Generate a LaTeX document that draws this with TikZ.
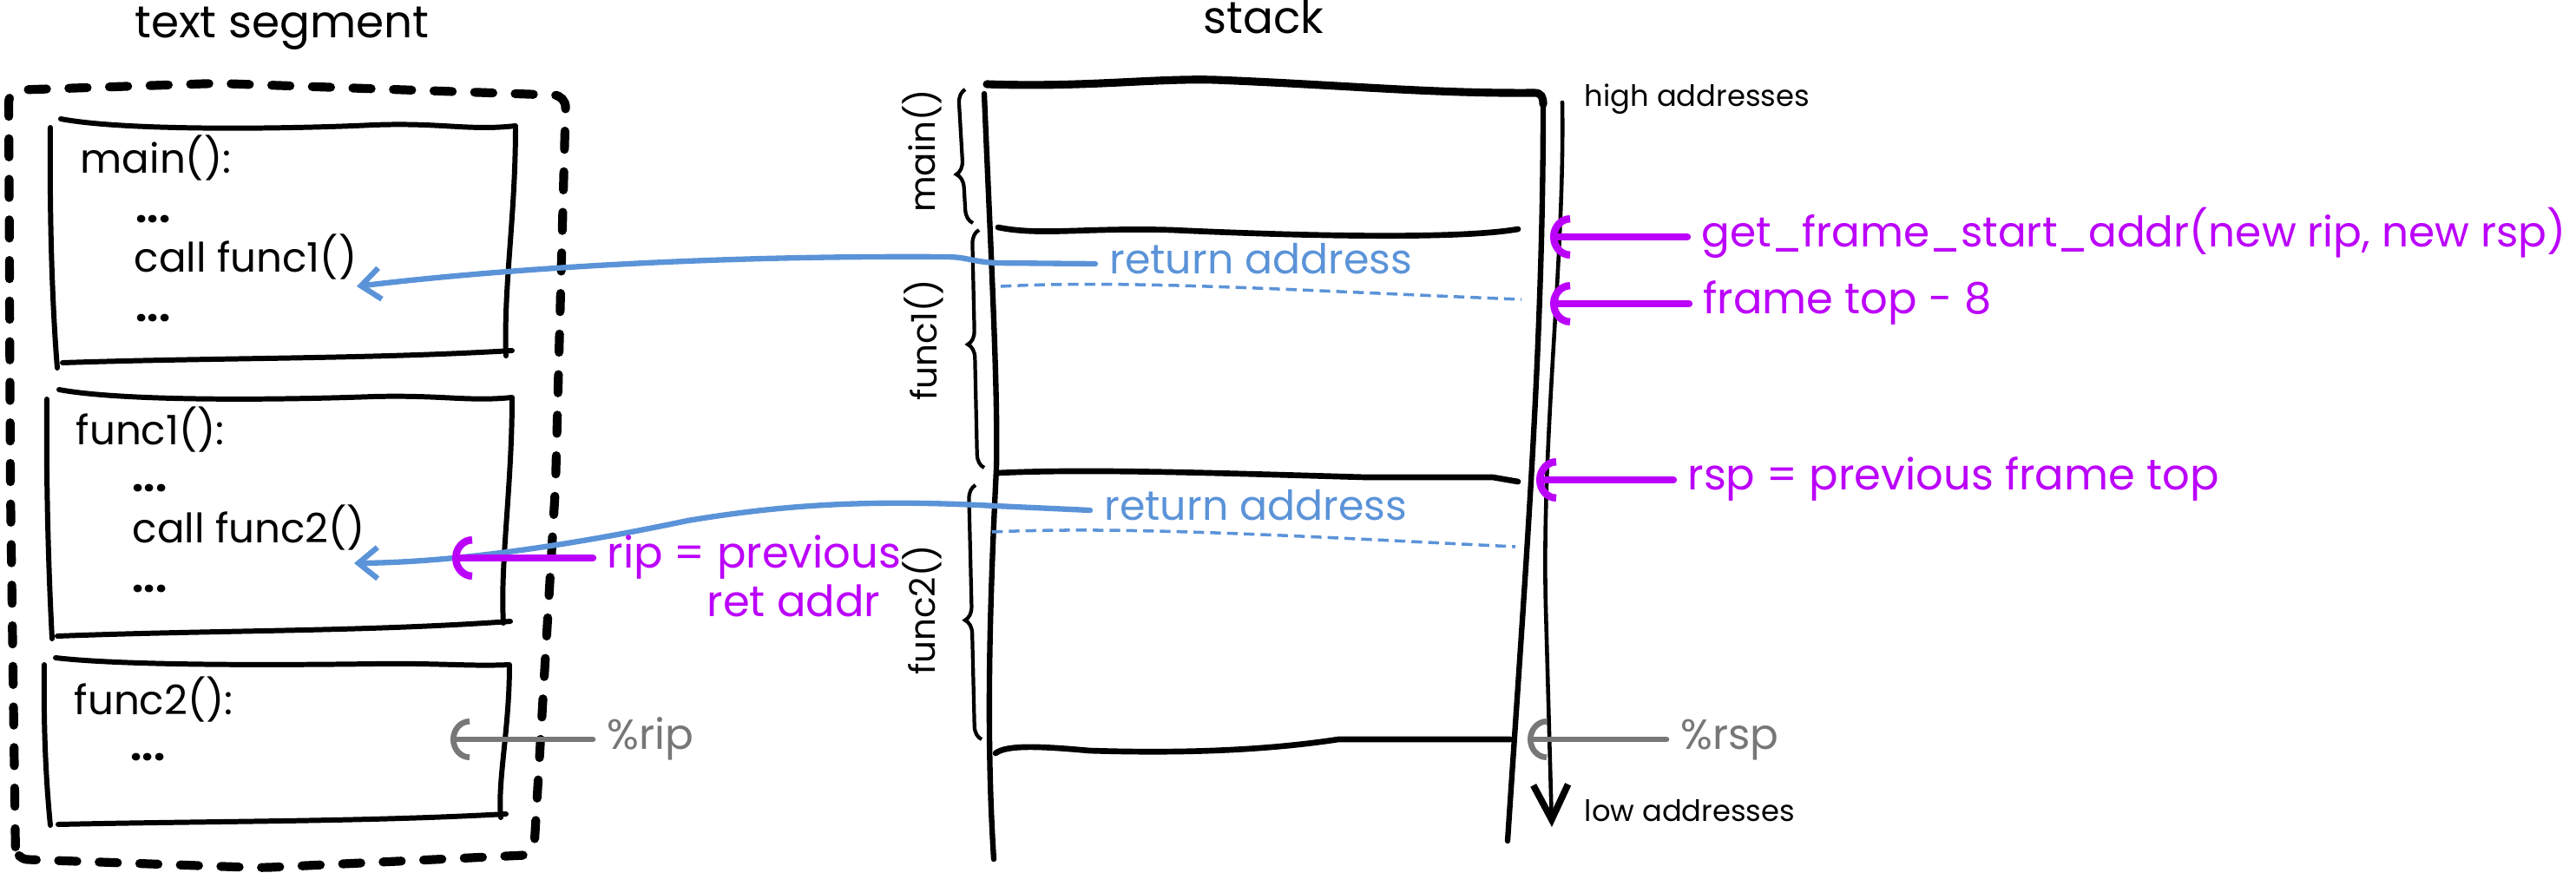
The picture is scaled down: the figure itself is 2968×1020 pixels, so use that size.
\documentclass[tikz,border=0pt]{standalone}
\usepackage{fontspec}
\setmainfont{Poppins}
\usepackage{tikz}
\usetikzlibrary{arrows.meta,decorations.pathreplacing,calc}

\definecolor{sketchblue}{HTML}{5B93D8}
\definecolor{sketchpurple}{HTML}{BB00FA}
\definecolor{sketchgray}{HTML}{777777}

\tikzset{
  boxline/.style={line width=1.7pt, line cap=round, line join=round},
  outerdash/.style={line width=2.9pt, line cap=round, dash pattern=on 6pt off 7.3pt, rounded corners=4pt},
  stackline/.style={line width=1.8pt, line cap=round},
  divider/.style={line width=1.9pt, line cap=round},
  retdash/.style={sketchblue, line width=1pt, dash pattern=on 3.5pt off 2pt},
  framebrace/.style={decorate, decoration={brace, amplitude=4.5pt, aspect=#1}, line width=1.2pt},
  titletext/.style={font=\fontsize{14.7}{17}\selectfont, anchor=base, inner sep=0pt},
  codetext/.style={font=\fontsize{13.3}{16}\selectfont, anchor=base west, inner sep=0pt},
  smalltext/.style={font=\fontsize{9.6}{12}\selectfont, anchor=base west, inner sep=0pt},
  frametext/.style={font=\fontsize{11.5}{13}\selectfont, rotate=90, inner sep=0pt},
  lbl/.style={font=\fontsize{13.5}{16}\selectfont, text height=10pt, text depth=3.2pt, inner xsep=4.5pt, anchor=west},
  bluelbl/.style={lbl, text=sketchblue},
  purplelbl/.style={lbl, text=sketchpurple, font=\fontsize{14.1}{16}\selectfont},
  graylbl/.style={lbl, text=sketchgray, font=\fontsize{13.8}{16}\selectfont},
  retptr/.style={sketchblue, line width=1.8pt, line cap=round, -{Straight Barb[length=2.2mm,width=3.6mm]}},
  frameptr/.style={sketchpurple, line width=2.4pt, line cap=round, -{Arc Barb[length=2.3mm,width=5mm]}},
  regptr/.style={sketchgray, line width=1.9pt, line cap=round, -{Arc Barb[length=2.2mm,width=4.8mm]}},
  addrline/.style={line width=1.3pt, line cap=round, -{Straight Barb[length=4mm,width=4mm,line width=2.2pt]}}
}

\begin{document}
\begin{tikzpicture}[x=0.01cm, y=-0.01cm]
\useasboundingbox (0,0) rectangle (2968,1020);

% titles
\node[titletext] (segtitle) at (325,43) {text segment};
\node[titletext] (stacktitle) at (1456,38) {stack};

% text segment
\draw[outerdash] (18,990) -- (12,560) -- (10,104) -- (250,96) -- (652,110) -- (640,560) -- (615,985) -- (300,1000) -- cycle;

\draw[boxline] (70,137) .. controls (150,152) and (350,148) .. (430,144) .. controls (510,141) and (540,151) .. (594,145) .. controls (594,250) and (580,330) .. (583,410);
\draw[boxline] (58,147) .. controls (57,250) and (60,350) .. (66,424);
\draw[boxline] (72,418) .. controls (250,412) and (420,414) .. (590,404);

\draw[boxline] (68,449) .. controls (150,464) and (350,460) .. (430,457) .. controls (510,455) and (540,463) .. (590,458) .. controls (590,560) and (576,650) .. (580,718);
\draw[boxline] (54,460) .. controls (53,560) and (56,660) .. (60,736);
\draw[boxline] (66,733) .. controls (250,726) and (420,728) .. (588,716);

\draw[boxline] (64,758) .. controls (150,768) and (350,766) .. (430,765) .. controls (510,764) and (540,768) .. (587,766) .. controls (587,840) and (573,900) .. (577,942);
\draw[boxline] (51,766) .. controls (50,840) and (53,900) .. (58,951);
\draw[boxline] (67,950) .. controls (250,946) and (420,947) .. (583,938);

\node[codetext] (mainhdr) at (92,199) {main():};
\node[codetext] (maindotsa) at (156,256) {\textbf{...}};
\node[codetext] (maincall) at (154,313) {call func1()};
\node[codetext] (maindotsb) at (156,370) {\textbf{...}};
\node[codetext] (fonehdr) at (87,512) {func1():};
\node[codetext] (fonedotsa) at (152,566) {\textbf{...}};
\node[codetext] (fonecall) at (152,625) {call func2()};
\node[codetext] (fonedotsb) at (152,682) {\textbf{...}};
\node[codetext] (ftwohdr) at (85,823) {func2():};
\node[codetext] (ftwodots) at (150,876) {\textbf{...}};

% stack
\draw[stackline, line width=2.6pt] (1137,97) .. controls (1250,101) and (1330,90) .. (1400,92) .. controls (1550,98) and (1650,108) .. (1768,107) .. controls (1776,107) and (1778,112) .. (1778,120);
\draw[stackline] (1778,120) .. controls (1778,400) and (1758,650) .. (1737,969);
\draw[stackline] (1134,108) .. controls (1142,300) and (1150,450) .. (1148,540) .. controls (1140,700) and (1136,850) .. (1145,990);

\draw[divider] (1150,262) .. controls (1200,272) and (1250,262) .. (1350,265) .. controls (1500,272) and (1680,276) .. (1749,264);
\draw[divider] (1150,545) .. controls (1250,540) and (1400,545) .. (1574,550) -- (1720,550) -- (1749,555);
\draw[divider] (1147,868) .. controls (1160,858) and (1200,860) .. (1255,865) .. controls (1350,868) and (1450,866) .. (1542,852) -- (1740,852);

\draw[retdash] (1153,330) .. controls (1300,322) and (1500,335) .. (1753,345);
\draw[retdash] (1143,613) .. controls (1300,606) and (1500,618) .. (1746,630);

\draw[addrline] (1800,118) .. controls (1803,300) and (1776,500) .. (1781,700) -- (1788,953);
\node[smalltext] (highaddr) at (1825,122) {high addresses};
\node[smalltext] (lowaddr) at (1825,946) {low addresses};

% frames
\draw[framebrace=0.37] (1121,257) -- (1112,103);
\draw[framebrace=0.52] (1134,539) -- (1128,265);
\draw[framebrace=0.47] (1131,852) -- (1124,559);
\node[frametext] (mainlbl) at (1062,174) {main()};
\node[frametext] (fonelbl) at (1064,392) {func1()};
\node[frametext] (ftwolbl) at (1062,703) {func2()};

% return addresses
\coordinate (retatip) at (411,330);
\coordinate (retbtip) at (408,649);
\node[bluelbl] (reta) at (1262,304) {return address};
\node[bluelbl] (retb) at (1256,588) {return address};
\draw[retptr] (reta.west) -- (1150,303) .. controls (1120,302) and (1115,296) .. (1090,296) .. controls (800,294) and (560,312) .. (retatip);
\draw[retptr] (retb.west) -- (1147,583) .. controls (1000,575) and (900,582) .. (792,600) .. controls (650,630) and (520,648) .. (retbtip);

% unwinding
\coordinate (gettip) at (1786,273);
\coordinate (toptip) at (1786,350);
\coordinate (rsptip) at (1770,553);
\coordinate (riptip) at (521,643);
\node[purplelbl, font=\fontsize{13.8}{16}\selectfont] (getlbl) at (1944,273) {get\_frame\_start\_addr(new rip, new rsp)};
\node[purplelbl] (toplbl) at (1946,350) {frame top - 8};
\node[purplelbl] (rsplbl) at (1928,553) {rsp = previous frame top};
\node[purplelbl] (riplbl) at (683,643) {rip = previous};
\node[purplelbl, anchor=base east] (retaddrlbl) at ($(riplbl.base east)+(-24,56)$) {ret addr};
\draw[frameptr] (getlbl.west) -- (gettip);
\draw[frameptr] (toplbl.west) -- (toptip);
\draw[frameptr] (rsplbl.west) -- (rsptip);
\draw[frameptr] (riplbl.west) -- (riptip);

% registers
\coordinate (rsptipb) at (1760,852);
\coordinate (riptipb) at (519,852);
\node[graylbl] (rspreg) at (1920,852) {\%rsp};
\node[graylbl] (ripreg) at (683,852) {\%rip};
\draw[regptr] (rspreg.west) -- (rsptipb);
\draw[regptr] (ripreg.west) -- (riptipb);

\end{tikzpicture}
\end{document}
